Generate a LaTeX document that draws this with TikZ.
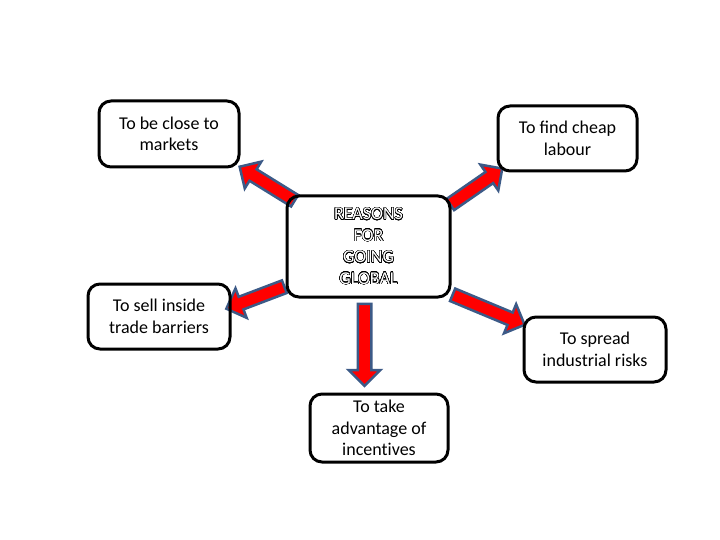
\documentclass[tikz,border=0pt]{standalone}
\usepackage{fontspec}
\setmainfont{Carlito}
\usepackage{contour}
\usetikzlibrary{shapes.arrows,calc,backgrounds}

\definecolor{arrowred}{RGB}{255,0,0}
\definecolor{arrowedge}{RGB}{60,90,135}

\tikzset{
  reason/.style={draw, line width=3pt, rounded corners=12pt, align=center,
    inner sep=0pt, font=\fontsize{18}{21.5}\selectfont},
  fatarrow/.style={single arrow, draw=arrowedge, fill=arrowred, line width=2.5pt,
    inner xsep=0pt, inner ysep=5.5pt, minimum width=29pt, single arrow head extend=9pt,
    single arrow tip angle=90, anchor=center}
}

\newcommand\bigarrow[2]{%
  \path let \p1=(#1), \p2=(#2), \p3=($(\p2)-(\p1)$),
    \n1={veclen(\x3,\y3)}, \n2={atan2(\y3,\x3)} in
    node[fatarrow, minimum height=\n1, rotate=\n2] at ($(\p1)!0.5!(\p2)$) {};}

\newcommand\hollow[1]{\textcolor{white}{\contour{black}{#1}}}
\contourlength{0.45pt}
\contournumber{32}

\begin{document}
\begin{tikzpicture}[x=1pt, y=-1pt]
\useasboundingbox (0,0) rectangle (720,540);

\node[reason, minimum width=140pt, minimum height=66pt] (markets) at (169,134) {To be close to\\markets};
\node[reason, minimum width=139pt, minimum height=65pt] (labour) at (567.5,138.5) {To find cheap\\labour};
\node[reason, minimum width=163pt, minimum height=101pt] (reasons) at (368.5,246.5)
  {\hollow{REASONS}\\\hollow{FOR}\\\hollow{GOING}\\\hollow{GLOBAL}};
\node[reason, minimum width=142pt, minimum height=65pt] (sell) at (159,316.5) {To sell inside\\trade barriers};
\node[reason, minimum width=142pt, minimum height=65pt] (spread) at (595,349.5) {To spread\\industrial risks};
\node[reason, minimum width=138pt, minimum height=68pt] (incentives) at (379,428)
  {To take\\advantage of\\{\addfontfeature{Ligatures=NoCommon}incentives}};

\begin{pgfonlayer}{background}
\bigarrow{$(reasons.north west)+(12,8)$}{$(markets.south east)+(2,0)$}
\bigarrow{$(reasons.north east)+(-4,12)$}{$(labour.south west)+(3,-2)$}
\bigarrow{$(reasons.south west)+(2,-13)$}{$(sell.east)+(-2,-9)$}
\bigarrow{$(reasons.south)+(-4,2)$}{$(incentives.north)+(-14.5,-10)$}
\bigarrow{$(reasons.south east)+(-2,-5)$}{$(spread.north west)+(-1,8)$}
\end{pgfonlayer}
\end{tikzpicture}
\end{document}
